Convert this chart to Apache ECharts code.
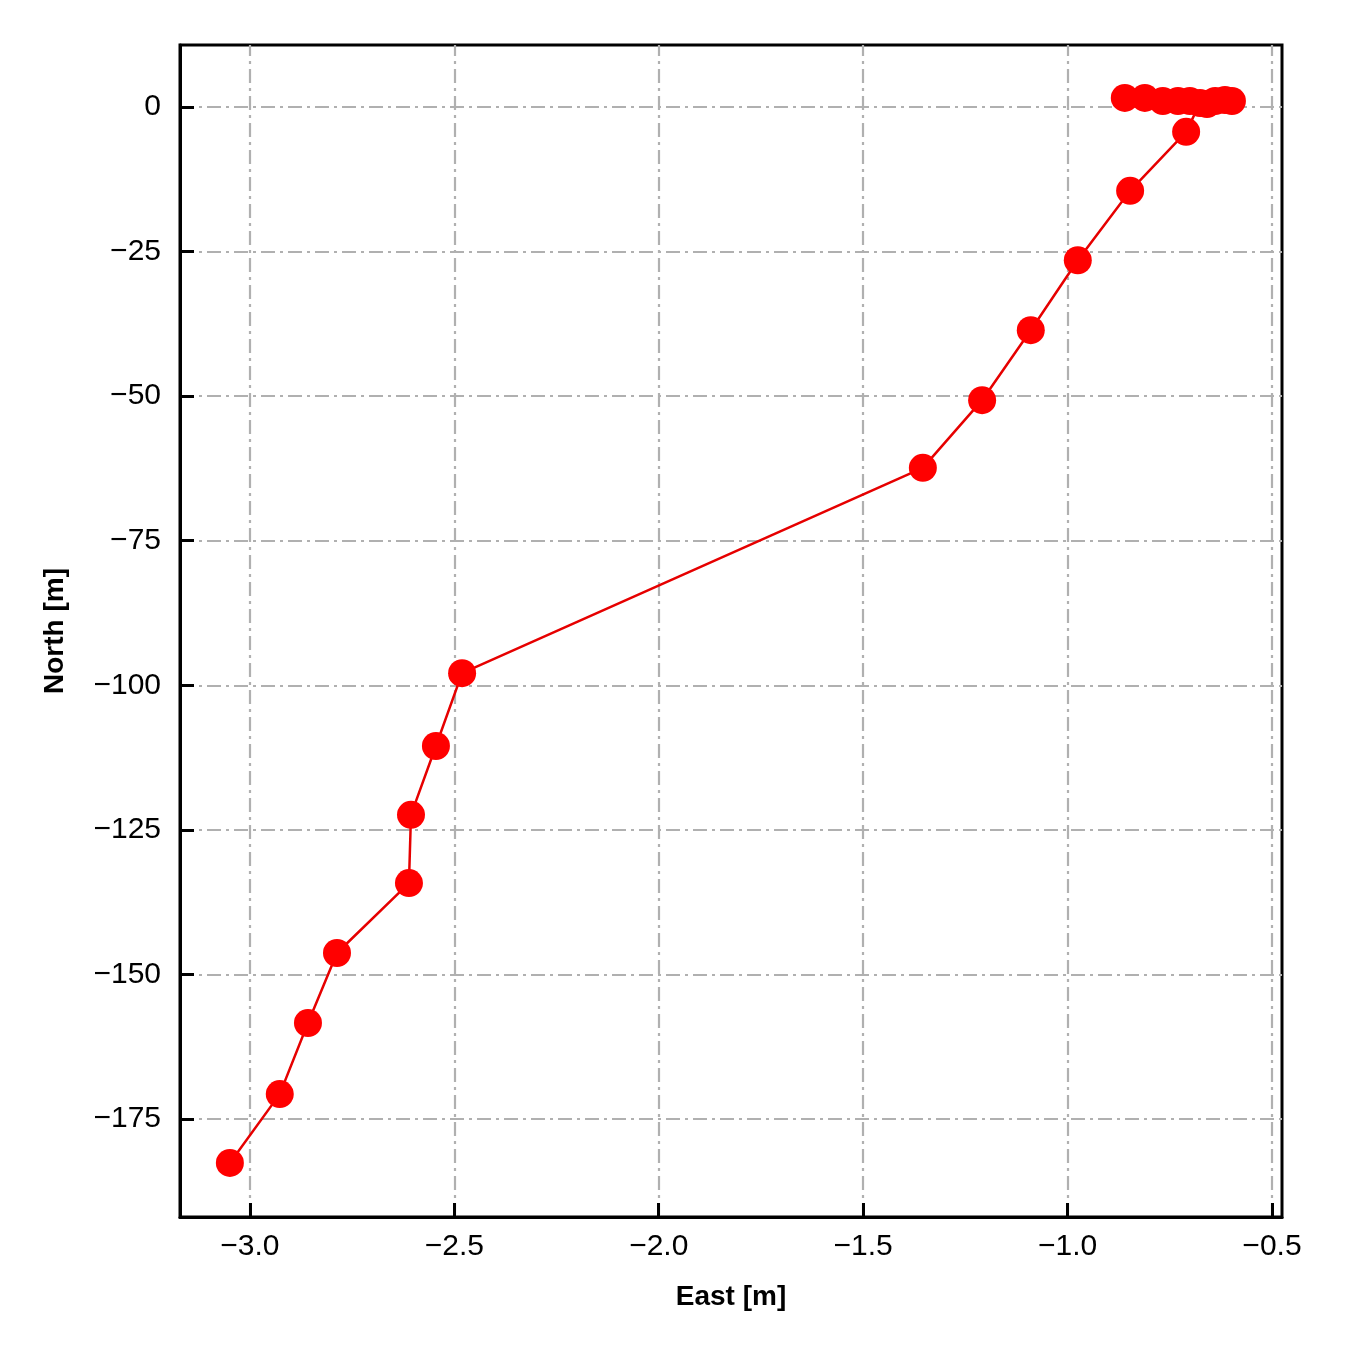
<!DOCTYPE html>
<html>
<head>
<meta charset="utf-8">
<script src="https://cdn.jsdelivr.net/npm/echarts@6/dist/echarts.min.js"></script>
<style>
  html, body { margin: 0; padding: 0; background: #fff; }
  #chart { width: 1350px; height: 1350px; }
</style>
</head>
<body>
<div id="chart"></div>
<script>
// track positions (start cluster first, then heading south-west)
const eastValues = [-0.598, -0.615, -0.639, -0.659, -0.701, -0.730, -0.767, -0.811, -0.860, -0.676,
  -0.710, -0.847, -0.975, -1.090, -1.209, -1.354, -2.481, -2.545, -2.606, -2.611, -2.787, -2.858, -2.927, -3.049]
const northValues = [1.04, 1.21, 1.04, 0.52, 1.04, 1.04, 1.04, 1.56, 1.56, 0.69,
  -4.3, -14.5, -26.5, -38.6, -50.7, -62.4, -97.9, -110.5, -122.4, -134.2, -146.3, -158.4, -170.7, -182.6]

const eastTicks = [-3.0, -2.5, -2.0, -1.5, -1.0, -0.5]
const northTicks = [0, -25, -50, -75, -100, -125, -150, -175]

const eastRange = [-3.171, -0.4755]
const northRange = [-191.95, 10.72]

const fontFamily = '"Liberation Sans", Arial, sans-serif'
const gridLine = { color: '#b0b0b0', width: 2.2, type: [14, 5, 3, 5] }
const frameLine = { color: '#000', width: 3 }

const minus = (s) => s.replace('-', '\u2212')

const points = eastValues.map((e, i) => [e, northValues[i]])

const chart = echarts.init(document.getElementById('chart'))

const option = {
  animation: false,
  grid: {
    left: 180,
    top: 45,
    width: 1102,
    height: 1172,
    show: true,
    borderColor: '#000',
    borderWidth: 3,
    backgroundColor: 'transparent'
  },
  xAxis: {
    type: 'value',
    zlevel: 1,
    min: eastRange[0],
    max: eastRange[1],
    name: 'East [m]',
    nameLocation: 'middle',
    nameGap: 66,
    nameTextStyle: { fontFamily, fontSize: 28, fontWeight: 'bold', color: '#000' },
    axisLine: { show: true, onZero: false, lineStyle: frameLine },
    axisTick: {
      show: true, inside: true, length: 14,
      lineStyle: frameLine,
      customValues: eastTicks
    },
    axisLabel: {
      fontFamily, fontSize: 30, color: '#000', margin: 15,
      customValues: eastTicks,
      formatter: (v) => minus(v.toFixed(1))
    },
    splitLine: { show: false }
  },
  yAxis: {
    type: 'value',
    zlevel: 1,
    min: northRange[0],
    max: northRange[1],
    name: 'North [m]',
    nameLocation: 'middle',
    nameGap: 111,
    nameTextStyle: { fontFamily, fontSize: 28, fontWeight: 'bold', color: '#000' },
    axisLine: { show: true, onZero: false, lineStyle: frameLine },
    axisTick: {
      show: true, inside: true, length: 14,
      lineStyle: frameLine,
      customValues: northTicks
    },
    axisLabel: {
      fontFamily, fontSize: 30, color: '#000', margin: 19,
      customValues: northTicks,
      formatter: (v) => minus(String(Math.round(v)))
    },
    splitLine: { show: false }
  },
  series: [
    {
      // grid lines drawn from the tick arrays
      type: 'line',
      data: [],
      silent: true,
      markLine: {
        silent: true,
        symbol: 'none',
        label: { show: false },
        lineStyle: gridLine,
        data: [
          ...eastTicks.map(v => ({ xAxis: v })),
          ...northTicks.map(v => ({ yAxis: v }))
        ]
      },
      z: 1
    },
    {
      type: 'line',
      data: points,
      symbol: 'circle',
      symbolSize: 28,
      lineStyle: { color: '#e60000', width: 2.5 },
      itemStyle: { color: '#ff0000' },
      z: 5
    }
  ]
}

chart.setOption(option)
</script>
</body>
</html>
